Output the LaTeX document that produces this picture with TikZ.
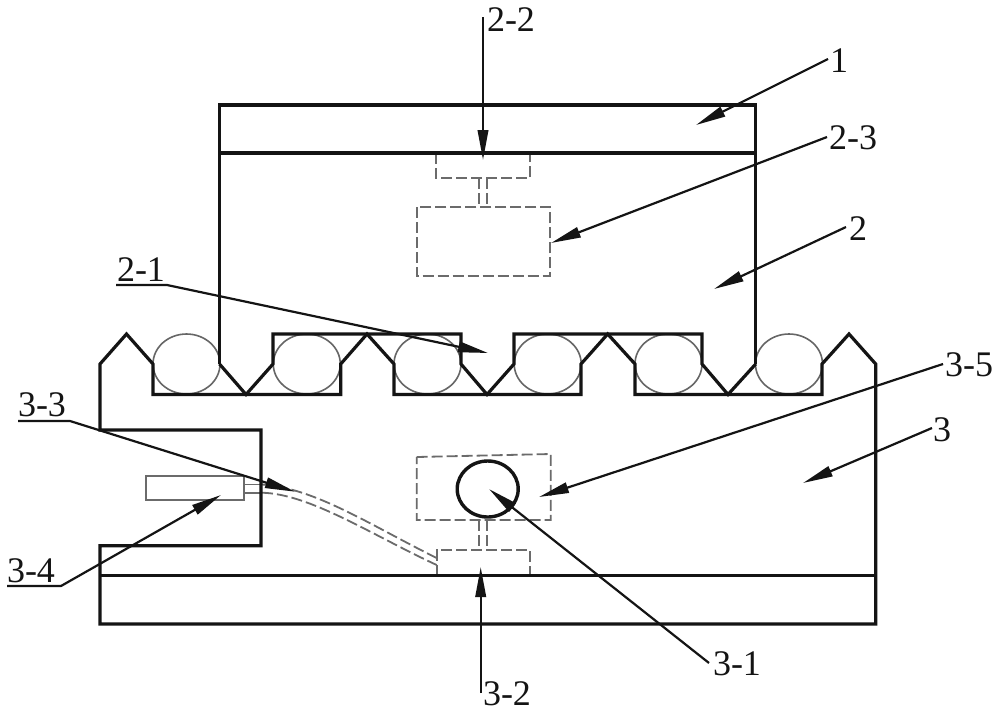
\documentclass[tikz,border=0pt]{standalone}
\usepackage{fontspec}
\setmainfont{Liberation Serif}
\usetikzlibrary{arrows.meta}
\tikzset{
  heavy/.style={line width=3.2pt,line join=miter,black!92},
  midline/.style={line width=3.2pt,black!92},
  roller/.style={line width=1.6pt,black!60},
  hidden/.style={line width=1.8pt,black!58,dash pattern=on 11pt off 4pt},
  thin part/.style={line width=1.8pt,black!58},
  leader/.style={line width=2.2pt,black!92},
  pointer/.style={leader,-{Triangle[length=30pt,width=10.5pt]}},
  lbl/.style={anchor=base west,inner sep=0pt,outer sep=0pt,font=\fontsize{36}{40}\selectfont,black!92},
}
\begin{document}
\begin{tikzpicture}[x=1pt,y=-1pt]
\useasboundingbox[fill=white] (0,0) rectangle (1000,713);
% rollers
\foreach \cx in {186.5,306.8,427.5,547.7,668.5,789}
  \draw[roller] (\cx,364) ellipse [x radius=33.5,y radius=30];
% hidden parts, upper
\draw[hidden] (436,153) -- (436,178) -- (530,178) -- (530,153);
\draw[hidden] (479,178) -- (479,207) (487.3,178) -- (487.3,207);
\draw[hidden] (416.7,207) rectangle (550,276);
% hidden parts, lower
\draw[hidden] (416.7,457) -- (550.7,454) -- (550.7,520) -- (416.7,520) -- cycle;
\draw[hidden] (436.7,575.5) -- (436.7,550) -- (530,550) -- (530,575.5);
\draw[hidden] (479.3,520) -- (479.3,550) (487.3,520) -- (487.3,550);
% sensor and cable
\draw[thin part] (145.7,476) rectangle (244.3,500);
\draw[thin part] (244.3,484.5) -- (262,484.5);
\draw[thin part] (244.3,492.7) -- (262,492.7);
\draw[hidden] (262,484.5) .. controls (315,488) and (370,525) .. (436.7,558);
\draw[hidden] (262,492.7) .. controls (310,494) and (370,534) .. (436.7,565);
% upper body
\draw[heavy] (219.5,364) -- (219.5,105) -- (755.7,105) -- (755.7,364);
\draw[midline] (219.5,153) -- (755.7,153);
% toothed profile, upper
\draw[heavy] (219.5,364) -- (246,394.5) -- (273,364) -- (273,334) -- (461,334) -- (461,364) -- (487,394.5)
  -- (514,364) -- (514,334) -- (702,334) -- (702,364) -- (728,394.5) -- (755.7,364);
% lower body
\draw[heavy] (875.7,364) -- (849,334) -- (822,364) -- (822,394.5) -- (635,394.5) -- (635,364) -- (607.7,334)
  -- (581,364) -- (581,394.5) -- (394,394.5) -- (394,364) -- (367,334) -- (340.7,364) -- (340.7,394.5)
  -- (153,394.5) -- (153,364) -- (126.5,334) -- (100,364) -- (100,430) -- (261,430) -- (261,545.7)
  -- (100,545.7) -- (100,624) -- (875.7,624) -- cycle;
\draw[midline] (100,575.5) -- (875.7,575.5);
% shaft
\draw[line width=3.4pt,black!92] (487.7,489) ellipse [x radius=30.5,y radius=28];
% labels
\node[lbl] (n1)  at (830,72)  {1};
\node[lbl] (n2)  at (849,240) {2};
\node[lbl] (n3)  at (933,441) {3};
\node[lbl] (n21) at (117,281) {2-1};
\node[lbl] (n22) at (487,31)  {2-2};
\node[lbl] (n23) at (829,149) {2-3};
\node[lbl] (n31) at (713,675) {3-1};
\node[lbl] (n32) at (483,705) {3-2};
\node[lbl] (n33) at (18,416)  {3-3};
\node[lbl] (n34) at (7,582)   {3-4};
\node[lbl] (n35) at (945,376) {3-5};
% leader ends
\coordinate (s1) at (828,59);    \coordinate (t1) at (696,125);
\coordinate (s2) at (846,227);   \coordinate (t2) at (714,289);
\coordinate (s3) at (932,428);   \coordinate (t3) at (803,483);
\coordinate (u21) at (116,285);  \coordinate (s21) at (167,285);  \coordinate (t21) at (488,353);
\coordinate (s22) at (483,17);   \coordinate (t22) at (483,160);
\coordinate (s23) at (827,137);  \coordinate (t23) at (551,243);
\coordinate (s31) at (709,663);  \coordinate (t31) at (489,489);
\coordinate (s32) at (480.7,693);\coordinate (t32) at (480.7,567);
\coordinate (u33) at (18,421);   \coordinate (s33) at (70,421);   \coordinate (t33) at (295,491.7);
\coordinate (u34) at (7,586);    \coordinate (s34) at (61,586);   \coordinate (t34) at (221,495);
\coordinate (s35) at (943,364);  \coordinate (t35) at (539,497);
% leaders
\draw[pointer] (s1) -- (t1);
\draw[pointer] (s2) -- (t2);
\draw[pointer] (s3) -- (t3);
\draw[pointer] (u21) -- (s21) -- (t21);
\draw[pointer] (s22) -- (t22);
\draw[pointer] (s23) -- (t23);
\draw[pointer] (s31) -- (t31);
\draw[pointer] (s32) -- (t32);
\draw[pointer] (u33) -- (s33) -- (t33);
\draw[pointer] (u34) -- (s34) -- (t34);
\draw[pointer] (s35) -- (t35);
\end{tikzpicture}
\end{document}
